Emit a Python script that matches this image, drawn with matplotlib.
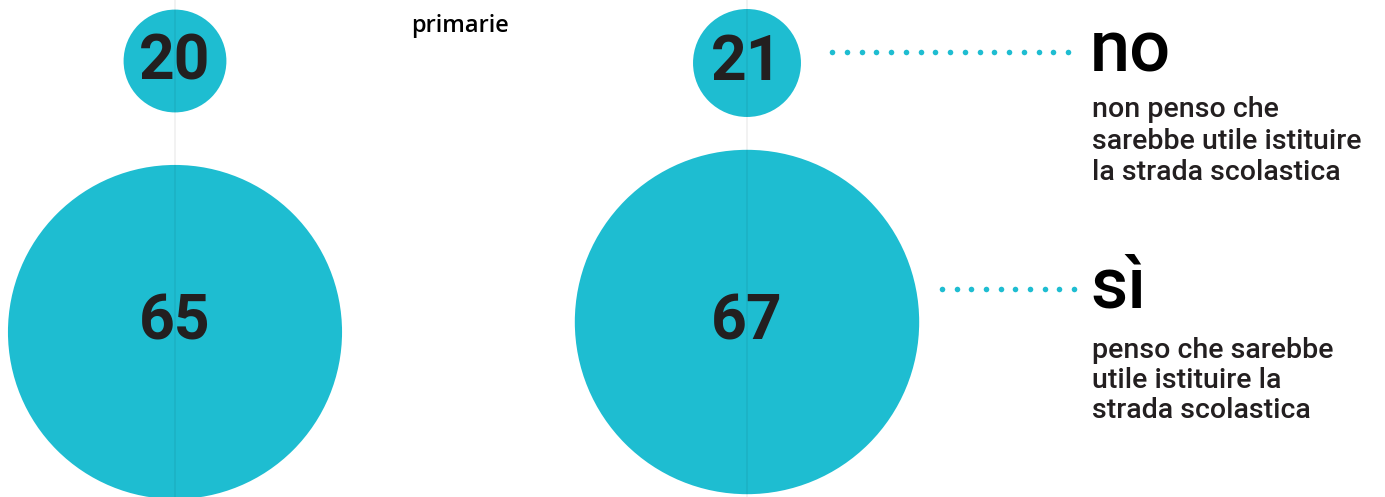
import matplotlib.pyplot as plt
from matplotlib.patches import Circle

# Data
answers = ['no', 'sì']
descriptions = [['non penso che', 'sarebbe utile istituire', 'la strada scolastica'],
                ['penso che sarebbe', 'utile istituire la', 'strada scolastica']]
group_label = 'primarie'
left_values = [20, 65]
right_values = [21, 67]

teal = '#1ebdd1'
ink = '#231f20'
plt.rcParams['font.family'] = ['Roboto', 'DejaVu Sans']

fig = plt.figure(figsize=(13.85, 4.97), dpi=100)
ax = fig.add_axes([0, 0, 1, 1])
ax.set_xlim(0, 1385)
ax.set_ylim(497, 0)
ax.set_aspect('equal')
ax.axis('off')

scale = 2.57  # radius in px per unit
cols = [(175, [61, 332], left_values), (747, [63, 322], right_values)]
num_baselines = [80, 340]
for cx, cys, vals in cols:
    for cy, bl, v in zip(cys, num_baselines, vals):
        ax.add_patch(Circle((cx, cy), v * scale, color=teal, lw=0, zorder=1))
        ax.text(cx, bl, str(v), ha='center', va='baseline', fontsize=45,
                fontweight='bold', color=ink, zorder=3)
    ax.plot([cx, cx], [0, 497], color='black', alpha=0.06, lw=1.2, zorder=2)

ax.text(460, 32, group_label, ha='center', va='baseline', fontsize=17,
        family=['Open Sans', 'DejaVu Sans'], fontweight='semibold', color='black')

# Leaders and labels
leaders = [(832, 1068, 52), (942, 1074, 289)]
label_base = [72, 307]
desc_base = [[117, 149, 180], [358, 388, 418]]
for (x0, x1, y), ans, lb, lines, bases in zip(leaders, answers, label_base,
                                              descriptions, desc_base):
    n = int(round((x1 - x0) / 14.7)) + 1
    xs = [x0 + i * (x1 - x0) / (n - 1) for i in range(n)]
    ax.plot(xs, [y] * n, 'o', color=teal, markersize=4, markeredgewidth=0)
    ax.text(1090, lb, ans, ha='left', va='baseline', fontsize=52,
            fontweight='medium', color='black')
    for line, b in zip(lines, bases):
        ax.text(1092, b, line, ha='left', va='baseline', fontsize=20.5,
                fontweight='medium', color=ink)

fig.savefig('out.png', dpi=100)
